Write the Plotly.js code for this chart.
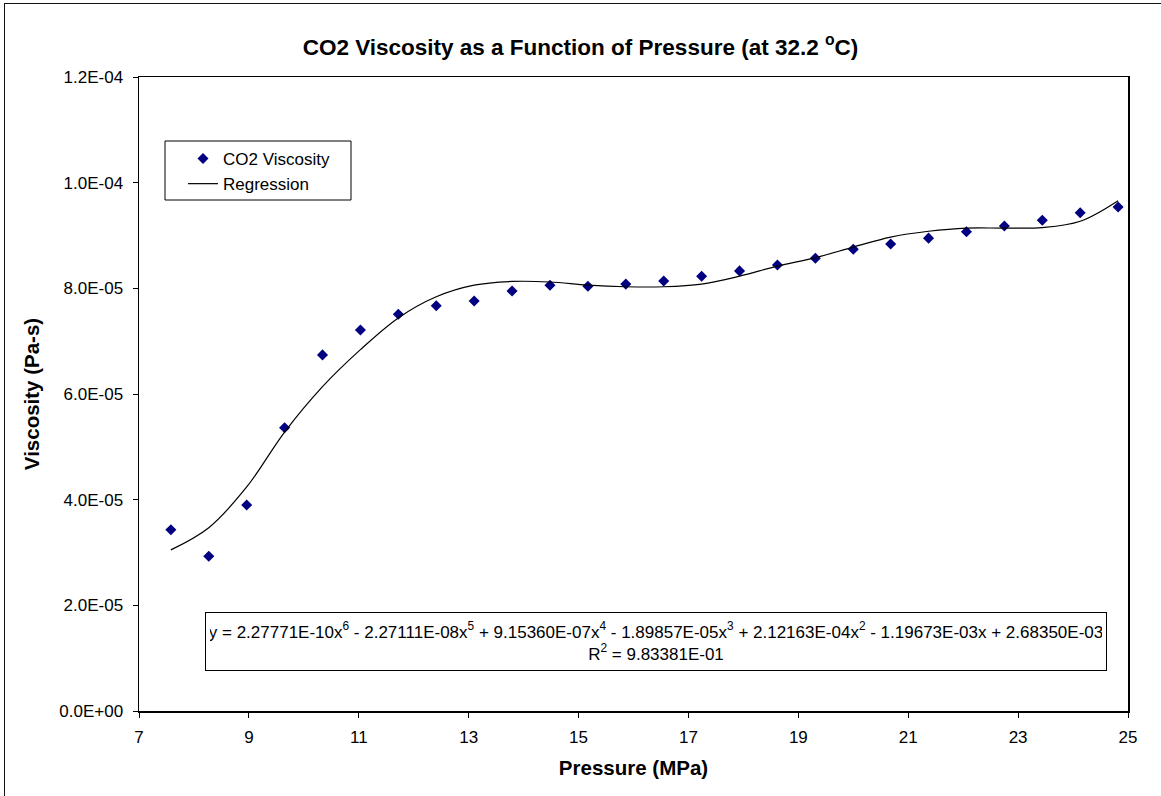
<!DOCTYPE html>
<html>
<head>
<meta charset="utf-8">
<script src="https://cdn.plot.ly/plotly-3.0.1.min.js"></script>
<style>
  html, body { margin: 0; padding: 0; background: #fff; }
  #wrap { position: relative; width: 1161px; height: 796px; overflow: hidden; }
  #chart { width: 1161px; height: 796px; }
  #frame { position: absolute; left: 4px; top: 3px; width: 1200px; height: 900px;
           border-left: 1.5px solid #111; border-top: 1.5px solid #111; pointer-events: none; }
</style>
</head>
<body>
<div id="wrap">
  <div id="chart"></div>
  <div id="frame"></div>
</div>
<script>
// Measured CO2 viscosity data (pressure in MPa, viscosity in Pa-s)
const pressure = [7.58, 8.27, 8.96, 9.65, 10.34, 11.03, 11.72, 12.41, 13.10, 13.79,
                  14.48, 15.17, 15.86, 16.55, 17.24, 17.93, 18.62, 19.31, 20.00, 20.68,
                  21.37, 22.06, 22.75, 23.44, 24.13, 24.82];
const viscosity = [3.43e-5, 2.93e-5, 3.90e-5, 5.36e-5, 6.74e-5, 7.21e-5, 7.51e-5, 7.67e-5, 7.76e-5, 7.95e-5,
                   8.06e-5, 8.04e-5, 8.08e-5, 8.14e-5, 8.23e-5, 8.33e-5, 8.44e-5, 8.57e-5, 8.74e-5, 8.84e-5,
                   8.95e-5, 9.07e-5, 9.18e-5, 9.29e-5, 9.43e-5, 9.54e-5];

// Regression curve
const fitPressure = [7.58, 8.27, 8.96, 9.65, 10.34, 11.03, 11.72, 12.41, 13.10, 13.79,
                     14.48, 15.17, 15.86, 16.55, 17.24, 17.93, 18.62, 19.31, 20.00, 20.68,
                     21.37, 22.06, 22.75, 23.44, 24.13, 24.82];
const fitViscosity = [3.05e-5, 3.47e-5, 4.24e-5, 5.28e-5, 6.14e-5, 6.84e-5, 7.44e-5, 7.84e-5, 8.06e-5, 8.13e-5,
                      8.12e-5, 8.06e-5, 8.03e-5, 8.03e-5, 8.08e-5, 8.23e-5, 8.42e-5, 8.58e-5, 8.78e-5, 8.97e-5,
                      9.08e-5, 9.14e-5, 9.14e-5, 9.15e-5, 9.27e-5, 9.66e-5];

// Axis ticks
const xTickVals = [7, 9, 11, 13, 15, 17, 19, 21, 23, 25];
const yTickVals = [0, 2e-5, 4e-5, 6e-5, 8e-5, 1e-4, 1.2e-4];
const yTickText = ["0.0E+00", "2.0E-05", "4.0E-05", "6.0E-05", "8.0E-05", "1.0E-04", "1.2E-04"];

// Trendline equation text
const fitTerms = ["2.27771E-10x<sup>6</sup>", "- 2.27111E-08x<sup>5</sup>", "+ 9.15360E-07x<sup>4</sup>",
                  "- 1.89857E-05x<sup>3</sup>", "+ 2.12163E-04x<sup>2</sup>", "- 1.19673E-03x", "+ 2.68350E-03"];
const rSquaredText = "9.83381E-01";

const FONT = "Liberation Sans, Arial, sans-serif";

// pixel helpers for placing boxes (plot area: x 139..1128, y 77..711)
const px2x = p => (p - 139) / 989;
const px2y = p => (711 - p) / 634;

const traces = [
  {
    x: pressure, y: viscosity, type: "scatter", mode: "markers", name: "CO2 Viscosity",
    marker: { symbol: "diamond", size: 8.5, color: "#000080", line: { width: 0 } }
  },
  {
    x: fitPressure, y: fitViscosity, type: "scatter", mode: "lines", name: "Regression",
    line: { color: "#000", width: 1.2, shape: "spline", smoothing: 1 }
  }
];

const layout = {
  width: 1161, height: 796,
  paper_bgcolor: "rgba(0,0,0,0)", plot_bgcolor: "#fff",
  margin: { l: 139, r: 33, t: 77, b: 85 },
  font: { family: FONT, color: "#000", size: 16 },
  title: {
    text: "<b>CO2 Viscosity as a Function of Pressure (at 32.2 <sup>o</sup>C)</b>",
    font: { family: FONT, size: 22.5, color: "#000" },
    xref: "container", x: 0.5, xanchor: "center",
    yref: "container", y: 1 - 47 / 796, yanchor: "middle"
  },
  xaxis: {
    range: [7, 25], tickvals: xTickVals, ticks: "outside", ticklen: 5, tickcolor: "#000",
    showline: true, linecolor: "#000", linewidth: 1.5, mirror: true, showgrid: false, zeroline: false,
    tickfont: { family: FONT, size: 17 }, ticklabelstandoff: 5,
    title: { text: "<b>Pressure (MPa)</b>", font: { family: FONT, size: 20.5 }, standoff: 14 }
  },
  yaxis: {
    range: [0, 1.2e-4], tickvals: yTickVals, ticktext: yTickText, ticks: "outside", ticklen: 5, tickcolor: "#000",
    showline: true, linecolor: "#000", linewidth: 1.5, mirror: true, showgrid: false, zeroline: false,
    tickfont: { family: FONT, size: 17 }, ticklabelstandoff: 6,
    title: { text: "<b>Viscosity (Pa-s)</b>", font: { family: FONT, size: 20.5 }, standoff: 14 }
  },
  showlegend: true,
  legend: {
    x: px2x(183), y: px2y(141), xanchor: "left", yanchor: "top",
    bgcolor: "rgba(0,0,0,0)", borderwidth: 0,
    font: { family: FONT, size: 17 }
  },
  shapes: [
    { // legend frame
      type: "rect", xref: "paper", yref: "paper", layer: "above",
      x0: px2x(165), x1: px2x(351), y0: px2y(200), y1: px2y(141),
      line: { color: "#000", width: 1 }, fillcolor: "#fff"
    }
  ],
  annotations: [
    {
      xref: "paper", yref: "paper",
      x: px2x(656), y: px2y(641.5), xanchor: "center", yanchor: "middle",
      text: "y = " + fitTerms.join(" ") + "<br>R<sup>2</sup> = " + rSquaredText,
      showarrow: false, align: "center",
      font: { family: FONT, size: 17, color: "#000" },
      bgcolor: "#fff", bordercolor: "#000", borderwidth: 1, borderpad: 4,
      width: 892, height: 49
    }
  ]
};

Plotly.newPlot("chart", traces, layout, { displayModeBar: false, staticPlot: true });
</script>
</body>
</html>
